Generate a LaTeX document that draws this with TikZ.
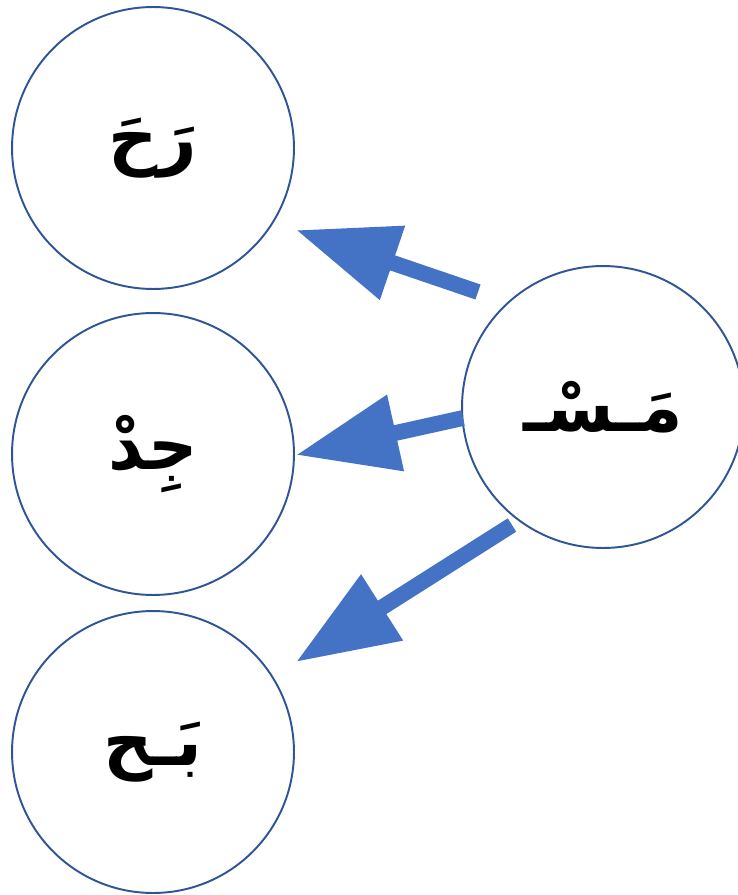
\documentclass[tikz,border=0pt]{standalone}
\usepackage{fontspec}
\TeXXeTstate=1
\newfontfamily\arabicfont[Script=Arabic]{DejaVu Sans}
\usetikzlibrary{arrows.meta, positioning}
\definecolor{cblue}{HTML}{4472C4}
\definecolor{cdark}{HTML}{2F5597}
\tikzset{
  syll/.style={circle, draw=cdark, line width=1.1pt, fill=white, minimum size=5.64cm, inner sep=0pt,
    font=\arabicfont\bfseries\fontsize{39}{44}\selectfont},
  arrow/.style={-{Triangle[length=2.04cm, width=1.48cm]}, draw=cblue, fill=cblue, line width=9pt},
}

\begin{document}
\begin{tikzpicture}[x=0.02cm, y=-0.02cm]
  \useasboundingbox (0,0) rectangle (737,895);
  % left column: the three syllables
  \node[syll] (top) at (153,148) {\beginR رَحَ\endR};
  \node[syll] (mid) at (153,454) {\beginR جِدْ\endR};
  \node[syll] (bot) at (153,752) {\beginR بَـح\endR};
  % right: the source syllable
  \node[syll] (src) at (603,407) {\beginR مَـسْـ\endR};
  % arrow ends
  \coordinate (s1) at (478,292);
  \coordinate (t1) at (296,230);
  \coordinate (s2) at (463,418);
  \coordinate (t2) at (296,455);
  \coordinate (s3) at (512,525);
  \coordinate (t3) at (296,662);
  \draw[arrow] (s1) -- (t1);
  \draw[arrow] (s2) -- (t2);
  \draw[arrow] (s3) -- (t3);
\end{tikzpicture}
\end{document}
